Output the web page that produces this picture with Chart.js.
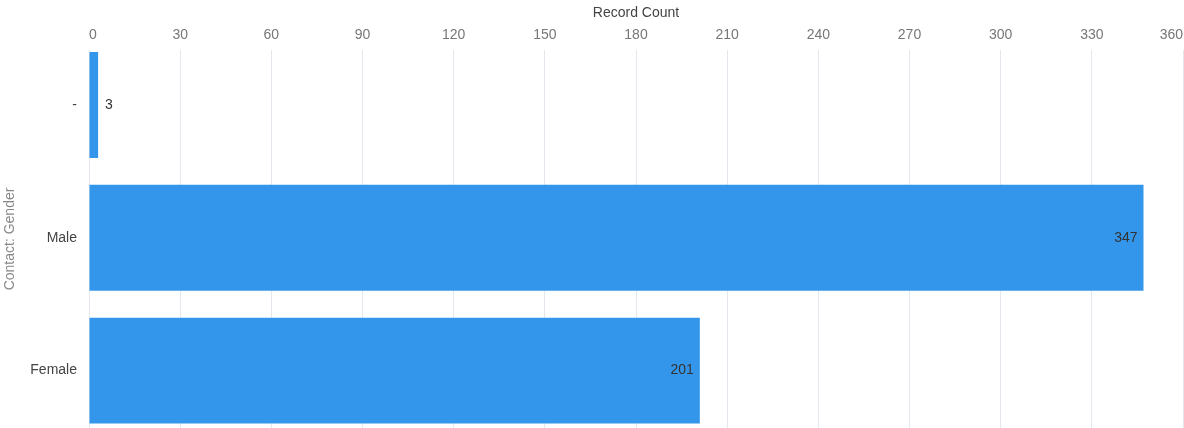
<!DOCTYPE html>
<html>
<head>
<meta charset="utf-8">
<script src="https://cdn.jsdelivr.net/npm/chart.js@4/dist/chart.umd.min.js"></script>
<style>
  html, body { margin: 0; padding: 0; background: #fff; }
  #wrap { width: 1184px; height: 428px; }
</style>
</head>
<body>
<div id="wrap"><canvas id="chart"></canvas></div>
<script>
// Chart data
const GENDERS = ['-', 'Male', 'Female'];
const RECORD_COUNTS = [3, 347, 201];
const X_TICK_STEP = 30;
const X_MAX = 360;

const FONT = '"Liberation Sans", Arial, sans-serif';
const BAR_COLOR = 'rgb(51, 150, 234)';

// Draw value labels at the end of each bar
const valueLabels = {
  id: 'valueLabels',
  afterDatasetsDraw(chart) {
    const ctx = chart.ctx;
    const meta = chart.getDatasetMeta(0);
    ctx.save();
    ctx.font = '14px ' + FONT;
    ctx.fillStyle = '#333';
    ctx.textBaseline = 'middle';
    meta.data.forEach((bar, i) => {
      const text = String(RECORD_COUNTS[i]);
      const w = ctx.measureText(text).width;
      const barLen = bar.x - bar.base;
      if (barLen > w + 12) {
        ctx.textAlign = 'right';
        ctx.fillText(text, bar.x - 6, bar.y);
      } else {
        ctx.textAlign = 'left';
        ctx.fillText(text, bar.x + 7, bar.y);
      }
    });
    ctx.restore();
  }
};

new Chart(document.getElementById('chart'), {
  type: 'bar',
  data: {
    datasets: [{
      data: RECORD_COUNTS.map((v, i) => ({ x: v, y: i })),
      backgroundColor: BAR_COLOR,
      categoryPercentage: 1,
      barPercentage: 0.798
    }]
  },
  options: {
    indexAxis: 'y',
    responsive: true,
    maintainAspectRatio: false,
    animation: false,
    layout: { padding: { right: 1, bottom: 0 } },
    plugins: {
      legend: { display: false },
      tooltip: { enabled: false }
    },
    scales: {
      x: {
        position: 'top',
        min: 0,
        max: X_MAX,
        border: { display: false },
        grid: { color: '#e3e8ef', drawTicks: false },
        ticks: {
          stepSize: X_TICK_STEP,
          align: 'inner',
          padding: 6,
          color: '#777',
          font: { family: FONT, size: 14 }
        },
        title: {
          display: true,
          text: 'Record Count',
          color: '#444',
          font: { family: FONT, size: 14 },
          padding: { top: 5, bottom: 0 }
        },
        afterFit(scale) {
          scale.height = 50;
          scale.paddingLeft = 0;
          scale.paddingRight = 0;
        }
      },
      y: {
        type: 'linear',
        reverse: true,
        offset: false,
        min: -0.414,
        max: 2.432,
        border: { display: false },
        grid: { display: false, drawTicks: false, offset: false },
        afterBuildTicks(scale) {
          scale.ticks = GENDERS.map((g, i) => ({ value: i }));
        },
        ticks: {
          padding: 12,
          color: '#444',
          font: { family: FONT, size: 14 },
          callback: (value) => GENDERS[value]
        },
        title: {
          display: true,
          text: 'Contact: Gender',
          color: '#888',
          font: { family: FONT, size: 14 },
          padding: { top: 2, bottom: 0 }
        },
        afterFit(scale) {
          scale.width = 89;
          scale.paddingTop = 0;
          scale.paddingBottom = 0;
        }
      }
    }
  },
  plugins: [valueLabels]
});
</script>
</body>
</html>
